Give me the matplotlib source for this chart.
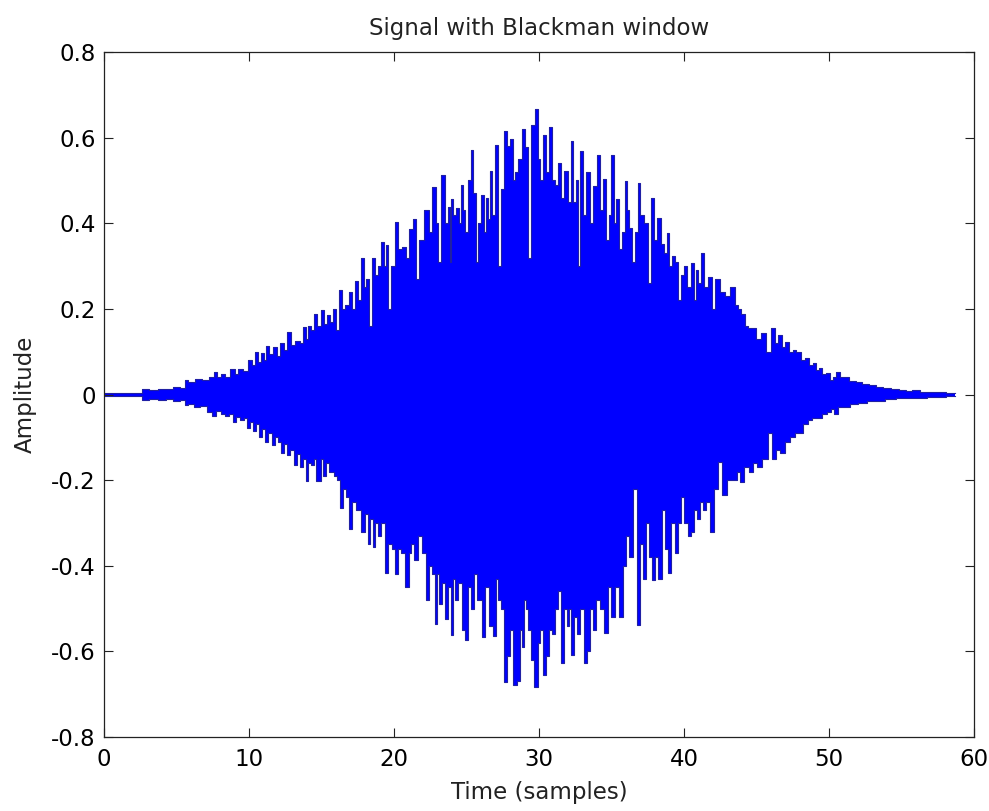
import numpy as np
import matplotlib.pyplot as plt

# upper outline of the windowed signal (time, amplitude)
up_t = [0, 2.6, 2.7, 3.5, 4.0, 4.5, 5.0, 5.5, 5.6, 6.0, 6.5, 7.0, 7.5, 7.7, 7.9, 8.2, 8.5, 8.9, 9.1, 9.4,
        9.7, 10.1, 10.3, 10.5, 10.7, 10.9, 11.1, 11.3, 11.5, 11.8, 12.0, 12.3, 12.5, 12.8, 13.0, 13.4, 13.6, 13.8,
        14.0, 14.2, 14.4, 14.6, 14.8, 15.1, 15.3, 15.5, 15.7, 15.9, 16.1, 16.3, 16.5, 16.8, 17.0, 17.2, 17.4,
        17.6, 17.8, 18.0, 18.2, 18.4, 18.6, 18.8, 19.0, 19.2, 19.35, 19.5, 19.7, 19.9, 20.2, 20.4, 20.7, 20.9,
        21.2, 21.4, 21.6, 21.9, 22.3, 22.5, 22.8, 23.0, 23.1, 23.4, 23.6, 23.8, 23.9, 24.0, 24.2, 24.4, 24.55,
        24.7, 24.85, 25.0, 25.2, 25.4, 25.55, 25.7, 25.9, 26.1, 26.25, 26.4, 26.55, 26.7, 26.85, 27.1, 27.3,
        27.5, 27.7, 27.9, 28.1, 28.25, 28.45, 28.7, 28.9, 29.1, 29.35, 29.6, 29.8, 30.0, 30.2, 30.4, 30.6, 30.8,
        31.0, 31.2, 31.4, 31.6, 31.9, 32.1, 32.3, 32.45, 32.6, 32.75, 32.9, 33.1, 33.4, 33.6, 33.9, 34.1, 34.3,
        34.5, 34.7, 34.9, 35.1, 35.25, 35.4, 35.6, 35.8, 36.0, 36.15, 36.3, 36.5, 36.7, 36.9, 37.1, 37.4, 37.6,
        37.8, 38.0, 38.3, 38.5, 38.7, 38.9, 39.1, 39.3, 39.5, 39.7, 39.9, 40.1, 40.3, 40.6, 40.8, 40.9, 41.1,
        41.3, 41.5, 41.8, 42.0, 42.3, 42.6, 43.0, 43.4, 43.6, 43.8, 44.1, 44.3, 44.5, 44.8, 45.1, 45.5, 45.8,
        46.2, 46.4, 46.6, 46.9, 47.1, 47.4, 47.6, 47.9, 48.2, 48.5, 48.8, 49.0, 49.2, 49.4, 49.7, 49.9, 50.2,
        50.4, 50.6, 50.9, 51.2, 51.6, 52.1, 52.5, 53.0, 53.5, 54.0, 54.5, 55.1, 55.5, 56.0, 56.5, 57.5, 58.7]
up_v = [0.004, 0.004, 0.012, 0.010, 0.014, 0.012, 0.017, 0.015, 0.033, 0.030, 0.037, 0.035, 0.040, 0.053,
        0.040, 0.047, 0.042, 0.059, 0.048, 0.059, 0.055, 0.081, 0.070, 0.100, 0.075, 0.098, 0.080, 0.113, 0.095,
        0.110, 0.090, 0.120, 0.105, 0.147, 0.115, 0.125, 0.120, 0.158, 0.130, 0.160, 0.150, 0.187, 0.160, 0.197,
        0.165, 0.185, 0.170, 0.200, 0.150, 0.244, 0.200, 0.210, 0.240, 0.200, 0.264, 0.220, 0.320, 0.250, 0.270,
        0.160, 0.320, 0.280, 0.300, 0.357, 0.300, 0.350, 0.200, 0.300, 0.404, 0.340, 0.345, 0.320, 0.386, 0.410,
        0.270, 0.360, 0.431, 0.380, 0.484, 0.400, 0.310, 0.513, 0.400, 0.437, 0.310, 0.456, 0.420, 0.435, 0.400,
        0.490, 0.430, 0.380, 0.500, 0.570, 0.470, 0.310, 0.400, 0.466, 0.380, 0.460, 0.410, 0.522, 0.420, 0.583,
        0.300, 0.480, 0.616, 0.580, 0.596, 0.500, 0.520, 0.550, 0.620, 0.577, 0.320, 0.630, 0.666, 0.550, 0.500,
        0.606, 0.520, 0.624, 0.500, 0.490, 0.540, 0.460, 0.522, 0.450, 0.592, 0.450, 0.500, 0.300, 0.569, 0.420,
        0.520, 0.400, 0.486, 0.560, 0.430, 0.503, 0.360, 0.420, 0.560, 0.400, 0.456, 0.340, 0.380, 0.499, 0.430,
        0.390, 0.310, 0.380, 0.493, 0.420, 0.400, 0.260, 0.460, 0.360, 0.413, 0.351, 0.330, 0.377, 0.300, 0.324,
        0.310, 0.220, 0.280, 0.300, 0.250, 0.307, 0.220, 0.290, 0.260, 0.330, 0.250, 0.275, 0.200, 0.270, 0.240,
        0.230, 0.250, 0.210, 0.200, 0.188, 0.160, 0.155, 0.155, 0.130, 0.143, 0.100, 0.156, 0.120, 0.139, 0.110,
        0.123, 0.100, 0.105, 0.100, 0.080, 0.085, 0.070, 0.074, 0.058, 0.061, 0.048, 0.050, 0.035, 0.040, 0.053,
        0.040, 0.040, 0.032, 0.030, 0.024, 0.023, 0.017, 0.015, 0.012, 0.011, 0.009, 0.011, 0.006, 0.005, 0.003]

# lower outline
lo_t = [0, 2.6, 2.7, 3.5, 4.0, 4.5, 5.0, 5.5, 5.6, 6.0, 6.4, 6.9, 7.3, 7.6, 7.9, 8.2, 8.5, 8.8, 9.0, 9.25,
        9.5, 9.75, 10.0, 10.2, 10.4, 10.6, 10.8, 11.0, 11.2, 11.45, 11.7, 11.9, 12.1, 12.3, 12.5, 12.7, 12.95,
        13.2, 13.4, 13.6, 13.8, 14.0, 14.2, 14.4, 14.55, 14.7, 14.9, 15.05, 15.2, 15.4, 15.7, 16.0, 16.2, 16.4,
        16.6, 16.8, 17.0, 17.2, 17.5, 17.9, 18.1, 18.3, 18.45, 18.6, 18.8, 19.0, 19.2, 19.5, 19.7, 20.0, 20.2,
        20.4, 20.6, 20.9, 21.1, 21.3, 21.5, 21.8, 22.1, 22.3, 22.5, 22.7, 22.9, 23.05, 23.2, 23.4, 23.6, 23.8,
        24.0, 24.15, 24.3, 24.55, 24.8, 25.0, 25.2, 25.4, 25.6, 25.9, 26.2, 26.4, 26.7, 26.9, 27.1, 27.3, 27.5,
        27.7, 27.9, 28.1, 28.3, 28.6, 28.75, 28.9, 29.05, 29.2, 29.35, 29.5, 29.8, 30.0, 30.2, 30.4, 30.6, 30.8,
        31.0, 31.2, 31.4, 31.6, 31.8, 32.0, 32.15, 32.3, 32.5, 32.7, 32.95, 33.2, 33.4, 33.6, 33.8, 34.1, 34.35,
        34.6, 34.85, 35.1, 35.4, 35.7, 35.9, 36.1, 36.35, 36.6, 36.9, 37.1, 37.3, 37.5, 37.7, 37.9, 38.1, 38.3,
        38.6, 38.8, 39.0, 39.2, 39.5, 39.7, 39.9, 40.15, 40.4, 40.6, 40.8, 41.0, 41.2, 41.4, 41.65, 41.9, 42.2,
        42.5, 42.8, 43.1, 43.5, 43.75, 44.0, 44.3, 44.6, 44.9, 45.2, 45.6, 46.0, 46.2, 46.5, 46.8, 47.1, 47.5,
        47.75, 48.0, 48.4, 48.7, 49.0, 49.3, 49.7, 50.0, 50.25, 50.5, 50.8, 51.2, 51.7, 52.3, 52.9, 53.5, 54.2,
        55.0, 56.0, 57.5, 58.7]
lo_v = [-0.004, -0.004, -0.012, -0.010, -0.013, -0.011, -0.014, -0.013, -0.025, -0.022, -0.030, -0.028,
        -0.040, -0.050, -0.038, -0.045, -0.050, -0.045, -0.064, -0.052, -0.060, -0.055, -0.079, -0.065, -0.085,
        -0.070, -0.099, -0.080, -0.110, -0.090, -0.118, -0.100, -0.110, -0.137, -0.115, -0.141, -0.130, -0.165,
        -0.140, -0.170, -0.150, -0.202, -0.160, -0.165, -0.150, -0.202, -0.202, -0.150, -0.190, -0.160, -0.180,
        -0.190, -0.200, -0.266, -0.220, -0.240, -0.313, -0.250, -0.270, -0.320, -0.280, -0.348, -0.290, -0.356,
        -0.300, -0.330, -0.300, -0.418, -0.350, -0.360, -0.420, -0.360, -0.370, -0.449, -0.370, -0.350, -0.387,
        -0.330, -0.371, -0.480, -0.400, -0.420, -0.535, -0.420, -0.490, -0.440, -0.525, -0.450, -0.562, -0.430,
        -0.480, -0.440, -0.550, -0.573, -0.450, -0.500, -0.420, -0.480, -0.566, -0.450, -0.540, -0.565, -0.430,
        -0.480, -0.500, -0.671, -0.610, -0.550, -0.679, -0.670, -0.550, -0.590, -0.480, -0.500, -0.550, -0.620,
        -0.683, -0.580, -0.550, -0.655, -0.610, -0.550, -0.560, -0.500, -0.460, -0.628, -0.500, -0.540, -0.500,
        -0.609, -0.520, -0.560, -0.500, -0.628, -0.600, -0.500, -0.550, -0.480, -0.500, -0.558, -0.450, -0.520,
        -0.450, -0.520, -0.400, -0.330, -0.380, -0.220, -0.538, -0.350, -0.430, -0.300, -0.380, -0.433, -0.380,
        -0.430, -0.270, -0.360, -0.418, -0.300, -0.370, -0.300, -0.240, -0.300, -0.330, -0.320, -0.270, -0.290,
        -0.250, -0.270, -0.250, -0.320, -0.220, -0.157, -0.235, -0.200, -0.200, -0.180, -0.204, -0.170, -0.180,
        -0.160, -0.170, -0.150, -0.090, -0.150, -0.130, -0.137, -0.110, -0.100, -0.090, -0.090, -0.070, -0.060,
        -0.055, -0.055, -0.045, -0.040, -0.035, -0.045, -0.030, -0.030, -0.022, -0.020, -0.016, -0.015, -0.011,
        -0.009, -0.007, -0.005, -0.003]

xticks = [0, 10, 20, 30, 40, 50, 60]
yticks = [-0.8, -0.6, -0.4, -0.2, 0, 0.2, 0.4, 0.6, 0.8]
ytick_labels = ['-0.8', '-0.6', '-0.4', '-0.2', '0', '0.2', '0.4', '0.6', '0.8']

plt.rcParams['font.family'] = ['DejaVu Sans']

fig = plt.figure(figsize=(9.89, 8.11), dpi=100)
ax = fig.add_axes([0.1052, 0.0912, 0.8796, 0.8447])

blue = '#0000ff'
edge = '#2020a4'
ax.fill_between(up_t, 0, up_v, step='mid', color=blue, lw=0)
ax.fill_between(lo_t, lo_v, 0, step='mid', color=blue, lw=0)
ax.step(up_t, up_v, where='mid', color=edge, lw=0.8)
ax.step(lo_t, lo_v, where='mid', color=edge, lw=0.8)

ax.set_xlim(0, 60)
ax.set_ylim(-0.8, 0.8)
ax.set_xticks(xticks)
ax.set_xticklabels([str(v) for v in xticks], fontsize=16.5)
ax.set_yticks(yticks)
ax.set_yticklabels(ytick_labels, fontsize=16.5)
ax.tick_params(direction='in', length=6.5, width=0.8, top=True, right=True, color='#222222')
ax.tick_params(axis='x', pad=8)
ax.tick_params(axis='y', pad=6)
for s in ax.spines.values():
    s.set_linewidth(0.9)
    s.set_color('#222222')

ax.set_title('Signal with Blackman window', fontsize=16.5, pad=12, color='#222222')
ax.set_xlabel('Time (samples)', fontsize=16.5, labelpad=7, color='#222222')
ax.set_ylabel('Amplitude', fontsize=16.5, labelpad=10, color='#222222')

fig.savefig('out.png', dpi=100)
